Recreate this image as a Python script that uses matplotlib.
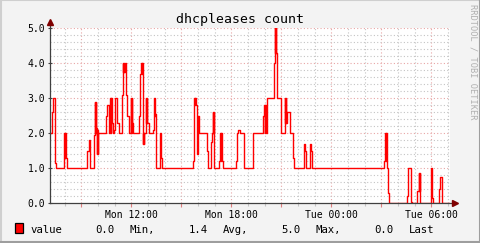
import matplotlib
matplotlib.use("Agg")
import matplotlib.pyplot as plt
from matplotlib.patches import Rectangle
from matplotlib.lines import Line2D

# step data: time (hours since Mon 00:00) where each value starts
t = [7.12, 7.26, 7.32, 7.44, 7.50, 7.98, 8.01, 8.03, 8.06, 8.12,
     9.36, 9.48, 9.51, 9.52, 9.54, 9.74, 9.80, 9.84, 9.86, 9.88,
     9.92, 9.95, 9.97, 9.98, 10.50, 10.56, 10.68, 10.71, 10.74, 10.77,
     10.79, 10.82, 10.88, 10.98, 11.04, 11.16, 11.28, 11.42, 11.48, 11.52,
     11.55, 11.58, 11.60, 11.68, 11.76, 11.88, 11.98, 12.01, 12.04, 12.06,
     12.12, 12.48, 12.54, 12.60, 12.63, 12.65, 12.68, 12.71, 12.74, 12.78,
     12.88, 12.91, 12.94, 12.96, 13.06, 13.30, 13.36, 13.39, 13.42, 13.44,
     13.50, 13.70, 13.76, 13.82, 15.72, 15.78, 15.81, 15.83, 15.86, 15.92,
     15.95, 15.97, 15.98, 16.02, 16.06, 16.52, 16.58, 16.76, 16.82, 16.88,
     16.91, 16.94, 16.96, 17.26, 17.34, 17.37, 17.39, 17.42, 17.48, 18.28,
     18.34, 18.40, 18.50, 18.76, 19.28, 19.90, 19.98, 20.01, 20.03, 20.06,
     20.16, 20.54, 20.59, 20.61, 20.63, 20.66, 20.68, 20.72, 20.98, 21.20,
     21.23, 21.25, 21.28, 21.30, 21.36, 21.54, 21.70, 21.76, 22.36, 22.39,
     22.41, 22.44, 22.50, 22.72, 22.80, 22.86, 27.16, 27.24, 27.27, 27.29,
     27.32, 27.38, 27.48, 28.52, 28.58, 28.76, 28.82, 29.16, 29.24, 29.27,
     29.30, 29.34, 29.98, 30.01, 30.03, 30.06, 30.12, 30.46, 30.54, 30.62]
v = [2.0, 2.6, 3.0, 1.15, 1.0, 2.0, 1.3, 2.0, 1.3, 1.0,
     1.5, 1.8, 1.5, 1.8, 1.0, 1.95, 2.9, 2.0, 2.9, 2.15,
     1.4, 2.1, 1.4, 2.0, 2.5, 2.8, 2.0, 2.8, 3.0, 2.0,
     3.0, 2.3, 2.0, 2.1, 3.0, 2.3, 2.0, 3.1, 4.0, 3.75,
     4.0, 3.75, 4.0, 3.1, 2.5, 2.0, 3.0, 2.0, 3.0, 2.3,
     2.0, 2.5, 3.7, 4.0, 3.7, 4.0, 1.7, 2.0, 1.7, 2.0,
     3.0, 2.3, 3.0, 2.3, 2.0, 2.1, 3.0, 2.5, 3.0, 2.55,
     1.0, 2.0, 1.3, 1.0, 1.2, 3.0, 2.8, 3.0, 2.8, 1.4,
     2.0, 1.4, 2.0, 2.5, 2.0, 1.5, 1.0, 1.75, 2.0, 2.6,
     2.0, 2.6, 1.0, 1.2, 2.0, 1.2, 2.0, 1.2, 1.0, 1.2,
     2.0, 2.1, 2.0, 1.0, 2.0, 2.5, 2.8, 2.0, 2.8, 2.0,
     3.0, 4.0, 4.3, 5.0, 4.3, 5.0, 4.3, 3.0, 2.0, 3.0,
     2.3, 3.0, 2.3, 2.3, 2.6, 2.0, 1.3, 1.0, 1.7, 1.5,
     1.7, 1.5, 1.0, 1.7, 1.5, 1.0, 1.2, 2.0, 1.2, 2.0,
     1.0, 0.3, 0.0, 0.2, 1.0, 0.05, 0.0, 0.35, 0.85, 0.35,
     0.85, 0.0, 1.0, 0.15, 1.0, 0.15, 0.0, 0.4, 0.75, 0.0]
t_start = 7.12
t_end = 31.12

title = "dhcpleases count"
x_label_pos = [12, 18, 24, 30]
x_labels = ["Mon 12:00", "Mon 18:00", "Tue 00:00", "Tue 06:00"]
y_ticks = [0, 1, 2, 3, 4, 5]
series_name = "value"
stat_values = ["0.0", "1.4", "5.0", "0.0"]
stat_names = ["Min,", "Avg,", "Max,", "Last"]

W, H = 481, 243
mono = "DejaVu Sans Mono"
plt.rcParams["font.family"] = mono

fig = plt.figure(figsize=(W / 100, H / 100), dpi=100)
fig.patch.set_facecolor("#f3f3f3")

# 3d frame around the picture
fig.add_artist(Line2D([0.5 / W, 0.5 / W], [0, 1], color="#cfcfcf", lw=1.5))
fig.add_artist(Line2D([0, 1], [1 - 0.5 / H, 1 - 0.5 / H], color="#cfcfcf", lw=1.5))
fig.add_artist(Line2D([1 - 1 / W, 1 - 1 / W], [0, 1], color="#9e9e9e", lw=1.5))
fig.add_artist(Line2D([0, 1], [1 / H, 1 / H], color="#9e9e9e", lw=1.5))

ax = fig.add_axes([50 / W, (H - 203.3) / H, 400 / W, 175.3 / H])
ax.set_facecolor("white")
ax.set_xlim(t_start, t_end)
ax.set_ylim(0, 5)
for s in ax.spines.values():
    s.set_visible(False)

# grid
for h in range(8, 32):
    major = h % 3 == 0
    ax.axvline(h, color="#e8a6a6" if major else "#c4c4c4", lw=0.8,
               ls=(0, (1, 2)), zorder=0)
for k in range(1, 26):
    y = k * 0.2
    major = k % 5 == 0
    ax.axhline(y, color="#e8a6a6" if major else "#c4c4c4", lw=0.8,
               ls=(0, (1, 2)), zorder=0)

ax.step(t + [t_end], v + [v[-1]], where="post", color="#ff0000", lw=1.0,
        zorder=3)

# axes with arrows
ax.plot([t_start, t_end + 0.3], [0, 0], color="#404040", lw=0.9,
        clip_on=False, zorder=4)
ax.plot([t_start, t_start], [0, 5.15], color="#404040", lw=0.9,
        clip_on=False, zorder=4)
ax.plot([t_end + 0.32], [0], marker=">", ms=4, color="#7f0000",
        clip_on=False, zorder=5)
ax.plot([t_start], [5.17], marker="^", ms=4, color="#7f0000",
        clip_on=False, zorder=5)

ax.set_xticks(range(9, 31, 3))
ax.set_xticklabels([x_labels[x_label_pos.index(h)] if h in x_label_pos else ""
                    for h in range(9, 31, 3)])
ax.set_xticks(range(8, 32), minor=True)
ax.tick_params(axis="x", which="major", length=3, width=0.8, color="#e08080",
               labelsize=7, pad=2)
ax.tick_params(axis="x", which="minor", length=2, width=0.8, color="#c4c4c4")
ax.set_yticks(y_ticks)
ax.set_yticklabels(["%.1f" % y for y in y_ticks])
ax.tick_params(axis="y", which="major", length=3, width=0.8, color="#404040",
               labelsize=7, pad=2, direction="inout")

fig.text(240.5 / W, 1 - 19 / H, title, ha="center", va="center", fontsize=9.5)
fig.text(473 / W, 1 - 4 / H, "RRDTOOL / TOBI OETIKER", rotation=270,
         ha="center", va="top", fontsize=6.2, color="#b0b0b0")

# legend row
ly = 1 - 229.5 / H
fig.add_artist(Rectangle((15.5 / W, 1 - 233 / H), 8 / W, 10 / H,
                         facecolor="#ff0000", edgecolor="black", lw=0.9))
fig.text(30.7 / W, ly, series_name, va="center", fontsize=7.7)
val_x = [95.7, 189, 281, 374.3]
name_x = [129.3, 222.7, 316, 409.3]
for sv, sn, vx, nx in zip(stat_values, stat_names, val_x, name_x):
    fig.text(vx / W, ly, sv, va="center", fontsize=7.7)
    fig.text(nx / W, ly, sn, va="center", fontsize=7.7)

fig.savefig("out.png", dpi=100, facecolor=fig.get_facecolor())
